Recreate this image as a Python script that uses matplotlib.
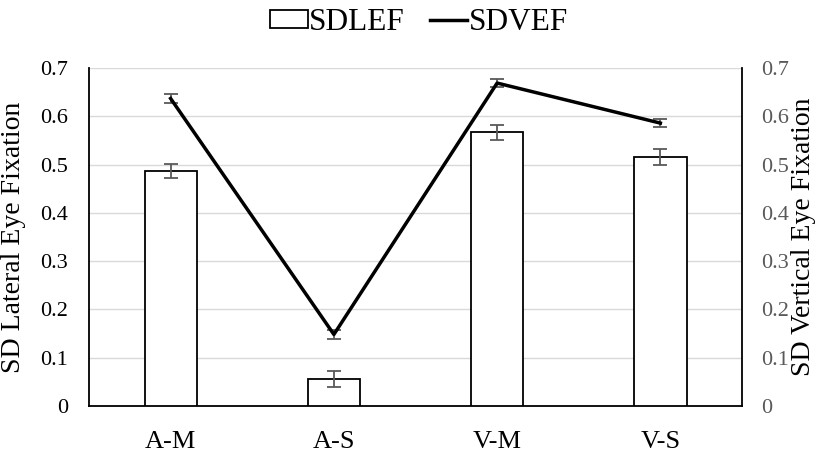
import matplotlib
matplotlib.use("Agg")
import matplotlib.pyplot as plt
from matplotlib.patches import Patch
from matplotlib.lines import Line2D
import numpy as np

categories = ["A-M", "A-S", "V-M", "V-S"]
sdlef = [0.487, 0.056, 0.567, 0.516]
sdlef_err = [0.015, 0.017, 0.016, 0.016]
sdvef = [0.637, 0.148, 0.669, 0.586]
sdvef_err = [0.009, 0.009, 0.009, 0.009]
ytick_labels = ['0', '0.1', '0.2', '0.3', '0.4', '0.5', '0.6', '0.7']

plt.rcParams['font.family'] = ['Liberation Serif', 'DejaVu Serif']

fig = plt.figure(figsize=(8.25, 4.54), dpi=100)
ax = fig.add_axes([0.1079, 0.106, 0.7915, 0.744])
x = np.arange(len(categories))

ax.bar(x, sdlef, width=0.32, facecolor='white', edgecolor='black', linewidth=1.3, zorder=3)
ax.errorbar(x, sdlef, yerr=sdlef_err, fmt='none', ecolor='#595959', elinewidth=1.3, capsize=5, capthick=1.3, zorder=4)

ax.set_xlim(-0.5, 3.5)
ax.set_ylim(0, 0.7)
ax.set_yticks(np.arange(0, 0.71, 0.1))
ax.set_yticklabels(ytick_labels)
ax.set_xticks(x)
ax.set_xticklabels(categories)
ax.grid(axis='y', color='#d9d9d9', linewidth=1.0, zorder=0)
ax.set_axisbelow(True)
ax.spines['top'].set_visible(False)
ax.spines['right'].set_visible(False)
for s in ['bottom', 'left']:
    ax.spines[s].set_color('black')
    ax.spines[s].set_linewidth(1.3)
ax.tick_params(axis='both', length=0, colors='black')
ax.tick_params(axis='y', labelsize=16, pad=15)
ax.tick_params(axis='x', labelsize=19, pad=18)
ax.set_ylabel('SD Lateral Eye Fixation', fontsize=20, color='black', labelpad=10)

ax2 = ax.twinx()
ax2.set_ylim(0, 0.7)
ax2.set_yticks(np.arange(0, 0.71, 0.1))
ax2.set_yticklabels(ytick_labels)
for s in ['top', 'left', 'bottom']:
    ax2.spines[s].set_visible(False)
ax2.spines['right'].set_color('black')
ax2.spines['right'].set_linewidth(1.3)
ax2.tick_params(axis='y', length=0, labelsize=16, colors='#595959', pad=14)
ax2.errorbar(x, sdvef, yerr=sdvef_err, fmt='none', ecolor='#595959', elinewidth=1.3, capsize=5, capthick=1.3, zorder=4)
ax2.plot(x, sdvef, color='black', linewidth=2.5, zorder=5)
ax2.set_ylabel('SD Vertical Eye Fixation', fontsize=20, color='black', labelpad=1)

handles = [Patch(facecolor='white', edgecolor='black', linewidth=1.3),
           Line2D([0], [0], color='black', linewidth=2.5)]
fig.legend(handles, ['SDLEF', 'SDVEF'], loc='upper center', bbox_to_anchor=(0.508, 1.045),
           ncol=2, frameon=False, fontsize=22.5, handlelength=1.2, handleheight=0.5,
           handletextpad=0.05, columnspacing=0.8)

fig.savefig('out.png', dpi=100)
